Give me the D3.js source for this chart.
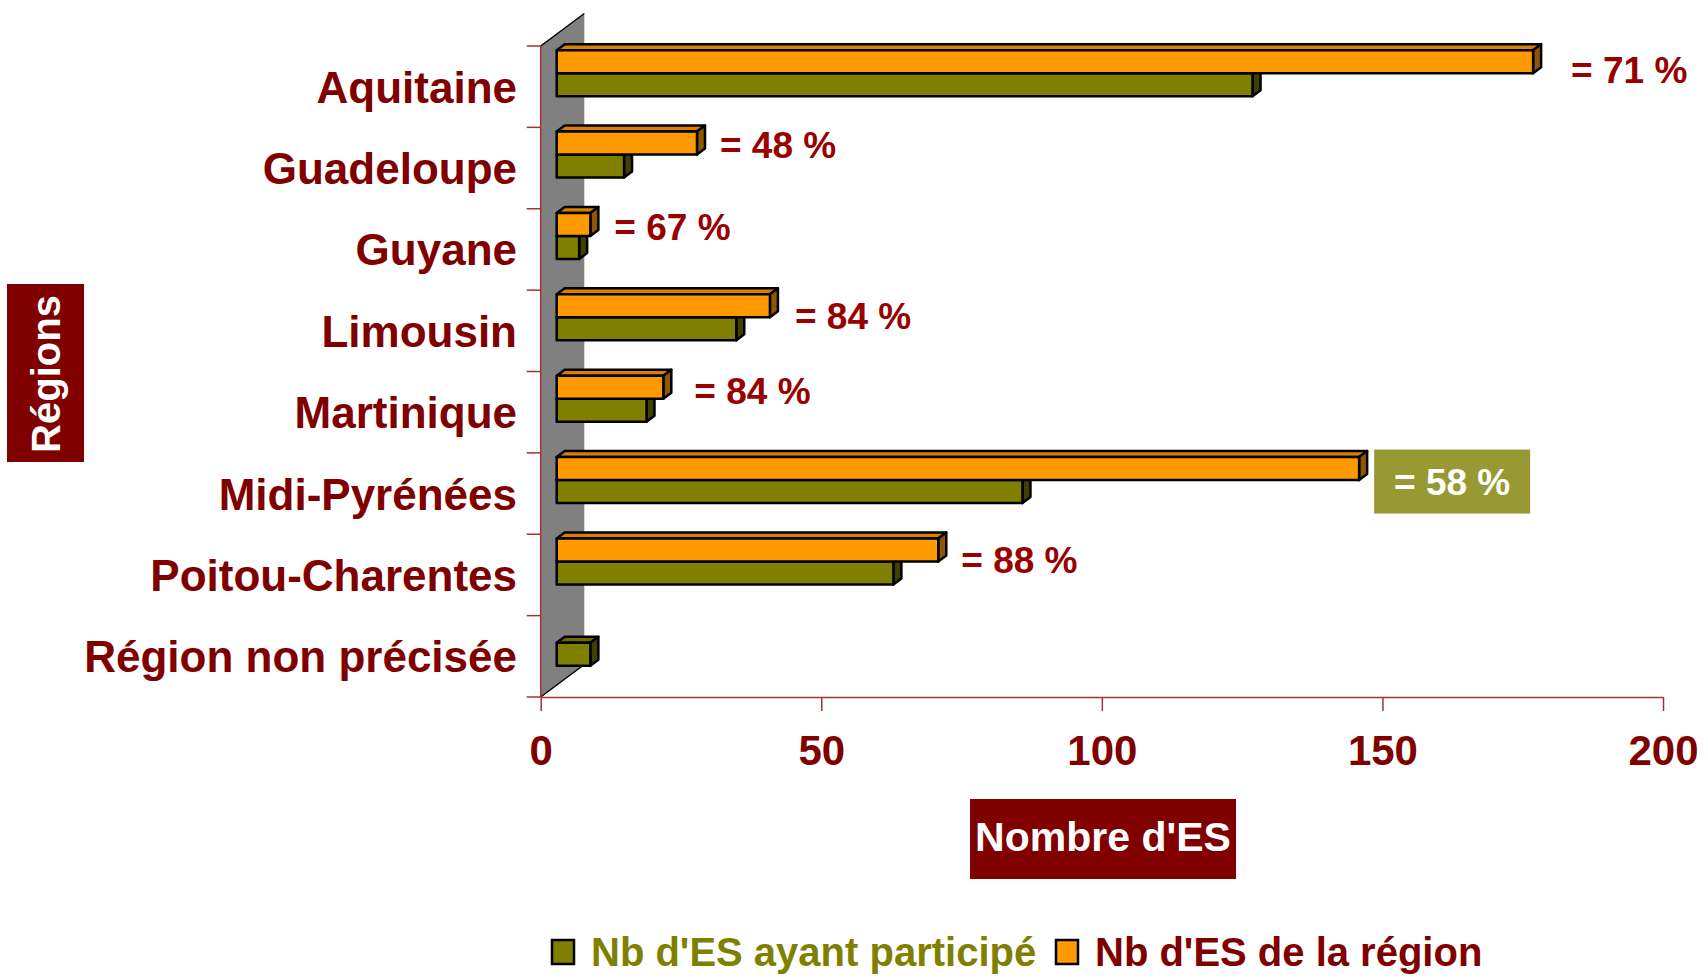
<!DOCTYPE html>
<html>
<head>
<meta charset="utf-8">
<script src="https://cdn.jsdelivr.net/npm/d3@7"></script>
<style>
  html, body { margin: 0; padding: 0; background: #fff; }
  svg { display: block; }
  text { font-family: "Liberation Sans", Arial, sans-serif; font-weight: bold; }
</style>
</head>
<body>
<svg id="chart" width="1708" height="978"></svg>
<script>
// ---- data ----
const categories = ["Aquitaine", "Guadeloupe", "Guyane", "Limousin", "Martinique",
                    "Midi-Pyrénées", "Poitou-Charentes", "Région non précisée"];
const participated = [124, 12, 4, 32, 16, 83, 60, 6];          // Nb d'ES ayant participé
const regionTotal  = [174, 25, 6, 38, 19, 143, 68, null];      // Nb d'ES de la région
const pctLabels    = ["= 71 %", "= 48 %", "= 67 %", "= 84 %", "= 84 %", "= 58 %", "= 88 %", null];
const xTicks = [0, 50, 100, 150, 200];
const seriesNames = ["Nb d'ES ayant participé", "Nb d'ES de la région"];

// ---- layout / style (not data) ----
const L = { x0: 540.7, x1: 1663, yTop: 46, yBot: 697 };
const wallD = { dx: 43.6, dy: -32.5 };
const barPlane = { dx: 16 };          // bars' front plane offset in depth
const faceD = { dx: 8, dy: -6 };      // bar depth faces
const barH = 23, groupShift = -13.5;
const labelGap =   [38, 23, 24, 25, 31, 15, 23, 0];   // measured from bar front end
const labelNudge = [8, 1.5, 2.5, 10, 4, 13, 10, 0];
const axisColor = "#a33333";
const darkRed = "#800000", pctRed = "#990000";
const colors = {
  green:  { front: "#808000", top: "#6b6b00", side: "#404000" },
  orange: { front: "#FF9900", top: "#D98000", side: "#8f5700" }
};

const svg = d3.select("#chart");
svg.append("rect").attr("width", 1708).attr("height", 978).attr("fill", "#fff");

const x = d3.scaleLinear().domain([0, 200]).range([L.x0, L.x1]);
const y = d3.scaleBand().domain(categories).range([L.yTop, L.yBot]).padding(0);

// ---- wall ----
const wallPts = [[L.x0, L.yTop], [L.x0 + wallD.dx, L.yTop + wallD.dy],
                 [L.x0 + wallD.dx, L.yBot + wallD.dy], [L.x0, L.yBot]];
svg.append("polygon").attr("points", wallPts.map(p => p.join(",")).join(" "))
  .attr("fill", "#808080");
svg.append("line").attr("x1", wallPts[0][0]).attr("y1", wallPts[0][1])
  .attr("x2", wallPts[1][0]).attr("y2", wallPts[1][1]).attr("stroke", "#000").attr("stroke-width", 1.5);
svg.append("line").attr("x1", wallPts[3][0]).attr("y1", wallPts[3][1])
  .attr("x2", wallPts[2][0]).attr("y2", wallPts[2][1]).attr("stroke", "#000").attr("stroke-width", 1.5);

// ---- category axis ----
const boundaries = categories.map(c => y(c)).concat([L.yBot]);
svg.append("line").attr("x1", L.x0).attr("x2", L.x0).attr("y1", L.yTop).attr("y2", L.yBot)
  .attr("stroke", axisColor).attr("stroke-width", 1.5);
svg.selectAll(".ctick").data(boundaries).join("line")
  .attr("x1", L.x0 - 14).attr("x2", L.x0).attr("y1", d => d).attr("y2", d => d)
  .attr("stroke", axisColor).attr("stroke-width", 1.5);
svg.selectAll(".clabel").data(categories).join("text")
  .attr("x", 517).attr("y", d => y(d) + y.bandwidth() / 2 + 16)
  .attr("text-anchor", "end").attr("font-size", 44).attr("fill", darkRed)
  .text(d => d);

// ---- value axis ----
const xAxis = d3.axisBottom(x).tickValues(xTicks).tickSize(14).tickSizeOuter(0).tickFormat(d3.format("d"));
const gx = svg.append("g").attr("transform", `translate(0,${L.yBot})`).call(xAxis);
gx.select(".domain").attr("stroke", axisColor).attr("stroke-width", 1.5);
gx.selectAll(".tick line").attr("stroke", axisColor).attr("stroke-width", 1.5);
gx.selectAll(".tick text").attr("y", 68).attr("dy", 0).attr("font-size", 42)
  .attr("fill", darkRed).attr("font-family", "Liberation Sans, Arial, sans-serif").attr("font-weight", "bold");

// ---- bars ----
function bar(g, v, top, col) {
  const xs = x(0) + barPlane.dx, xe = x(v) + barPlane.dx, bot = top + barH;
  const st = { stroke: "#000", "stroke-width": 2.5, "stroke-linejoin": "round" };
  const poly = (pts, fill) => {
    const p = g.append("polygon").attr("points", pts.map(q => q.join(",")).join(" ")).attr("fill", fill);
    Object.entries(st).forEach(([k, val]) => p.attr(k, val));
  };
  poly([[xs, top], [xs + faceD.dx, top + faceD.dy], [xe + faceD.dx, top + faceD.dy], [xe, top]], col.top);
  poly([[xe, top], [xe + faceD.dx, top + faceD.dy], [xe + faceD.dx, bot + faceD.dy], [xe, bot]], col.side);
  poly([[xs, top], [xe, top], [xe, bot], [xs, bot]], col.front);
  return { xe, top, bot };
}

const barsG = svg.append("g");
categories.forEach((c, i) => {
  const cy = y(c) + y.bandwidth() / 2 + groupShift;
  const g = barsG.append("g");
  bar(g, participated[i], cy, colors.green);
  if (regionTotal[i] != null) {
    const o = bar(g, regionTotal[i], cy - barH, colors.orange);
    const lx = o.xe + labelGap[i];
    const ly = (o.top + o.bot) / 2 + labelNudge[i];
    if (i === 5) {
      svg.append("rect").attr("x", lx).attr("y", ly - 32).attr("width", 156).attr("height", 64)
        .attr("fill", "#999933");
      svg.append("text").attr("x", lx + 78).attr("y", ly + 13).attr("text-anchor", "middle")
        .attr("font-size", 37).attr("fill", "#fff").text(pctLabels[i]);
    } else {
      svg.append("text").attr("x", lx).attr("y", ly + 13)
        .attr("font-size", 37).attr("fill", pctRed).text(pctLabels[i]);
    }
  }
});

// ---- axis titles ----
svg.append("rect").attr("x", 970).attr("y", 799).attr("width", 266).attr("height", 80).attr("fill", darkRed);
svg.append("text").attr("x", 1103).attr("y", 851).attr("text-anchor", "middle")
  .attr("font-size", 41).attr("fill", "#fff").text("Nombre d'ES");

svg.append("rect").attr("x", 7).attr("y", 284).attr("width", 77).attr("height", 178).attr("fill", darkRed);
svg.append("text").attr("transform", "translate(60,374) rotate(-90)").attr("text-anchor", "middle")
  .attr("font-size", 40).attr("fill", "#fff").text("Régions");

// ---- legend ----
const legend = [
  { name: seriesNames[0], fill: colors.green.front, text: "#808000", x: 552 },
  { name: seriesNames[1], fill: colors.orange.front, text: darkRed, x: 1056 }
];
legend.forEach(d => {
  svg.append("rect").attr("x", d.x).attr("y", 940).attr("width", 22).attr("height", 24)
    .attr("fill", d.fill).attr("stroke", "#000").attr("stroke-width", 2.5);
  svg.append("text").attr("x", d.x + 39).attr("y", 966).attr("font-size", 40)
    .attr("fill", d.text).text(d.name);
});
</script>
</body>
</html>
